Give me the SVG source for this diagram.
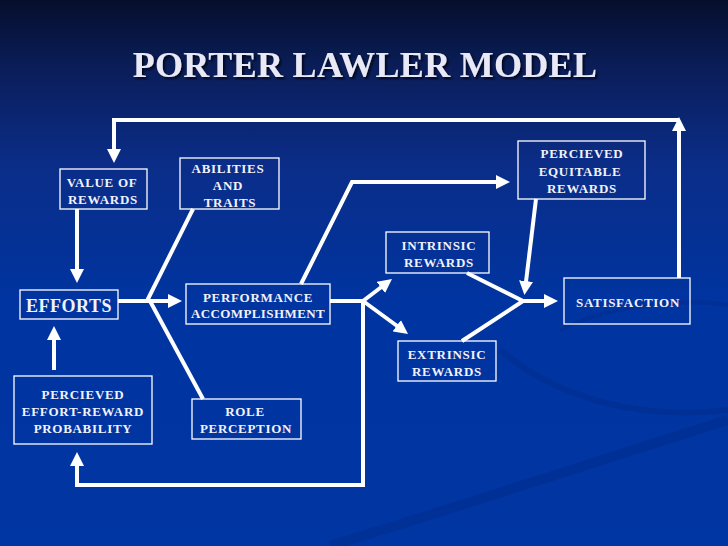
<svg xmlns="http://www.w3.org/2000/svg" width="728" height="546" viewBox="0 0 728 546">
<defs>
<linearGradient id="bg" x1="0" y1="0" x2="0" y2="1">
<stop offset="0" stop-color="#050e2c"/>
<stop offset="0.12" stop-color="#0a1d58"/>
<stop offset="0.3" stop-color="#0b2d88"/>
<stop offset="0.55" stop-color="#0034a0"/>
<stop offset="1" stop-color="#0036a3"/>
</linearGradient>
<filter id="sh" x="-5%" y="-20%" width="110%" height="150%">
<feDropShadow dx="2" dy="2" stdDeviation="1" flood-color="#000010" flood-opacity="0.8"/>
</filter>
<marker id="ah" markerUnits="userSpaceOnUse" markerWidth="14" markerHeight="14" viewBox="0 0 14 14" refX="9" refY="7" orient="auto">
<path d="M0,0 L14,7 L0,14 z" fill="#ffffff"/>
</marker>
<style>
.box{fill:none;stroke:#ffffff;stroke-width:1.3}
.t{font-family:"Liberation Serif","Times New Roman",serif;font-weight:bold;font-size:13px;fill:#f2f2fa;text-anchor:middle;letter-spacing:0.7px}
.c{fill:none;stroke:#ffffff;stroke-width:4;stroke-linejoin:miter;stroke-linecap:butt}
.a{marker-end:url(#ah)}
</style>
</defs>
<rect width="728" height="546" fill="url(#bg)"/>
<g opacity="0.18" fill="none" stroke="#001a66">
<path d="M500,350 C560,400 640,420 728,410" stroke-width="6"/>
<path d="M330,546 C480,500 600,460 728,420" stroke-width="10"/>
<path d="M560,330 C620,300 700,300 728,305" stroke-width="4"/>
</g>
<text x="365" y="77" font-family="Liberation Serif,'Times New Roman',serif" font-weight="bold" font-size="36" letter-spacing="0.3" fill="#e8e8f6" text-anchor="middle" filter="url(#sh)">PORTER LAWLER MODEL</text>
<g id="connectors">
<path class="c a" d="M679,278 V122"/>
<path class="c a" d="M679,120 H114 V158"/>
<path class="c a" d="M77,209 V278"/>
<path class="c a" d="M54,370 V331"/>
<path class="c a" d="M118,301 H177"/>
<path class="c" d="M193,209 L147,301"/>
<path class="c" d="M150,301 L203,399"/>
<path class="c a" d="M301,284 L352,182 H505"/>
<path class="c a" d="M330,301 H363 V485 H77 V457"/>
<path class="c a" d="M363,301 L388,282"/>
<path class="c a" d="M363,301 L404,331"/>
<path class="c" d="M467,273 L523,301"/>
<path class="c" d="M462,341 L523,301"/>
<path class="c a" d="M521,301 H553"/>
<path class="c a" d="M536,199 L525,290"/>
</g>
<g id="value">
<rect class="box" x="60" y="169" width="87" height="40"/>
<text class="t" x="102" y="187">VALUE OF</text>
<text class="t" x="103" y="204">REWARDS</text>
</g>
<g id="abilities">
<rect class="box" x="180" y="158" width="99" height="51"/>
<text class="t" x="228" y="173">ABILITIES</text>
<text class="t" x="228" y="190">AND</text>
<text class="t" x="230" y="207">TRAITS</text>
</g>
<g id="efforts">
<rect class="box" x="20" y="290" width="98" height="29"/>
<text class="t" x="69" y="312" style="font-size:18px;letter-spacing:0.5px">EFFORTS</text>
</g>
<g id="performance">
<rect class="box" x="186" y="284" width="144" height="40"/>
<text class="t" x="258" y="302">PERFORMANCE</text>
<text class="t" x="258" y="318" style="letter-spacing:0.4px">ACCOMPLISHMENT</text>
</g>
<g id="equitable">
<rect class="box" x="518" y="141" width="127" height="58"/>
<text class="t" x="582" y="158">PERCIEVED</text>
<text class="t" x="580" y="176">EQUITABLE</text>
<text class="t" x="582" y="193">REWARDS</text>
</g>
<g id="intrinsic">
<rect class="box" x="386" y="232" width="103" height="41"/>
<text class="t" x="439" y="250">INTRINSIC</text>
<text class="t" x="439" y="267">REWARDS</text>
</g>
<g id="extrinsic">
<rect class="box" x="398" y="341" width="98" height="40"/>
<text class="t" x="447" y="359">EXTRINSIC</text>
<text class="t" x="447" y="376">REWARDS</text>
</g>
<g id="satisfaction">
<rect class="box" x="564" y="278" width="126" height="46"/>
<text class="t" x="628" y="307">SATISFACTION</text>
</g>
<g id="probability">
<rect class="box" x="14" y="376" width="138" height="68"/>
<text class="t" x="83" y="399">PERCIEVED</text>
<text class="t" x="83" y="416">EFFORT-REWARD</text>
<text class="t" x="83" y="433">PROBABILITY</text>
</g>
<g id="role">
<rect class="box" x="192" y="399" width="109" height="40"/>
<text class="t" x="245" y="416">ROLE</text>
<text class="t" x="246" y="433">PERCEPTION</text>
</g>
</svg>
